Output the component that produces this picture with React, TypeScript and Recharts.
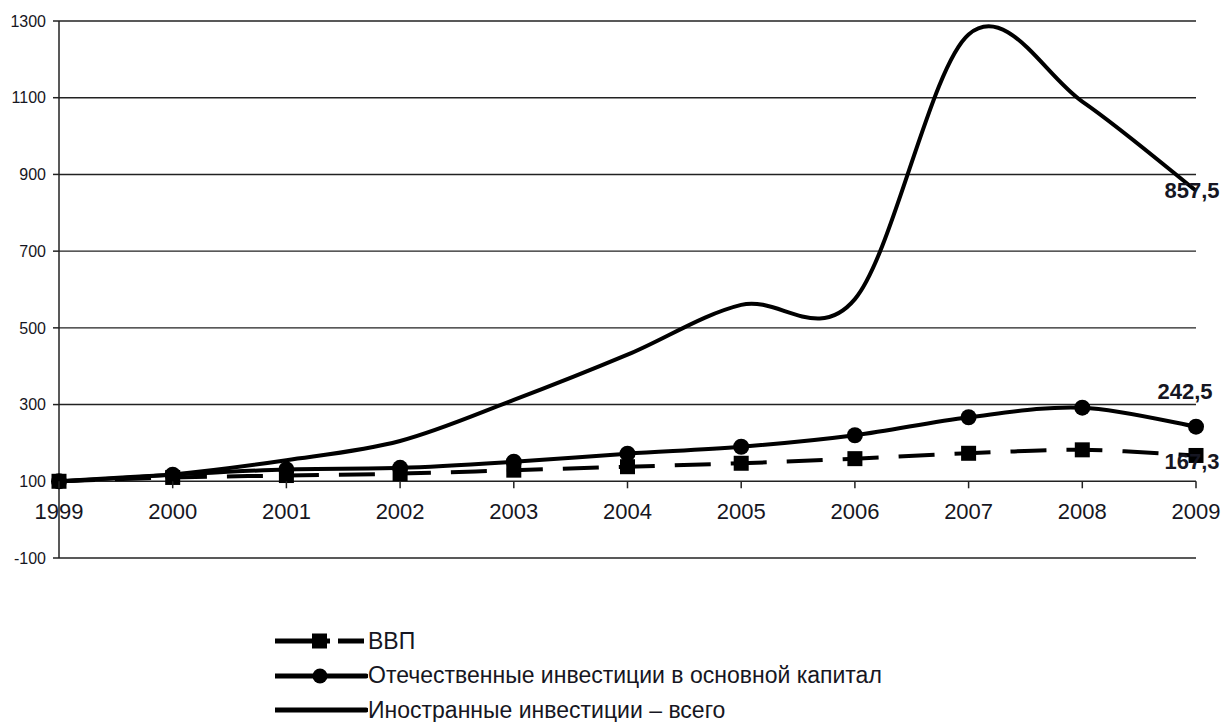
import React from "react";
import {
  LineChart,
  Line,
  XAxis,
  YAxis,
  CartesianGrid,
  Legend,
  LabelList,
} from "recharts";

const years = ["1999", "2000", "2001", "2002", "2003", "2004", "2005", "2006", "2007", "2008", "2009"];
const gdp = [100, 110, 115, 120, 129, 138, 147, 159, 173, 182, 167.3];
const domestic = [100, 117, 131, 135, 151, 172, 190, 220, 267, 292, 242.5];
const foreign = [100, 118, 155, 205, 312, 430, 560, 575, 1265, 1090, 857.5];
const yTicks = [-100, 100, 300, 500, 700, 900, 1100, 1300];

const seriesNames = {
  gdp: "ВВП",
  domestic: "Отечественные инвестиции в основной капитал",
  foreign: "Иностранные инвестиции – всего",
};

const data = years.map((year, i) => ({
  year,
  gdp: gdp[i],
  domestic: domestic[i],
  foreign: foreign[i],
}));

const W = 1223;
const H = 722;
const X_AXIS_H = 30;
const MARGIN = { top: 21, right: 27, left: 0, bottom: 134 };
const Y_MIN = -100;
const Y_MAX = 1300;
const X_AXIS_AT = 100;
const FONT = '"Liberation Sans", Arial, sans-serif';
const INK = "#161622";

// Excel-like smoothed line (Catmull-Rom through every point)
function excelSmooth(context: any) {
  let pts: number[][] = [];
  return {
    areaStart() {},
    areaEnd() {},
    lineStart() {
      pts = [];
    },
    lineEnd() {
      const n = pts.length;
      if (!n) return;
      context.moveTo(pts[0][0], pts[0][1]);
      for (let i = 0; i < n - 1; i++) {
        const p0 = pts[Math.max(i - 1, 0)];
        const p1 = pts[i];
        const p2 = pts[i + 1];
        const p3 = pts[Math.min(i + 2, n - 1)];
        context.bezierCurveTo(
          p1[0] + (p2[0] - p0[0]) / 6,
          p1[1] + (p2[1] - p0[1]) / 6,
          p2[0] - (p3[0] - p1[0]) / 6,
          p2[1] - (p3[1] - p1[1]) / 6,
          p2[0],
          p2[1]
        );
      }
    },
    point(x: number, y: number) {
      pts.push([+x, +y]);
    },
  };
}

// x labels sit under the line at 100, not at the bottom of the plot
const plotH = H - MARGIN.top - MARGIN.bottom - X_AXIS_H;
const axisShift = ((X_AXIS_AT - Y_MIN) / (Y_MAX - Y_MIN)) * plotH;

const XTick = (props: any) => {
  const { x, y, payload } = props;
  return (
    <g transform={`translate(${x},${y - axisShift})`}>
      <line x1={0} x2={0} y1={0} y2={7} stroke="#222" strokeWidth={1.5} />
      <text x={0} y={38} textAnchor="middle" fontSize={22} fontFamily={FONT} fill={INK}>
        {payload.value}
      </text>
    </g>
  );
};

const SquareDot = (props: any) => {
  const { cx, cy, index } = props;
  if (cx == null || cy == null) return null;
  return <rect key={`sq-${index}`} x={cx - 7.5} y={cy - 7.5} width={15} height={15} fill="#000" />;
};

const lastLabel = (dx: number, dy: number) => (props: any) => {
  const { x, y, index, value } = props;
  if (index !== years.length - 1) return null;
  return (
    <text
      x={x + dx}
      y={y + dy}
      textAnchor="middle"
      fontSize={22}
      fontWeight="bold"
      fontFamily={FONT}
      fill={INK}
    >
      {String(value).replace(".", ",")}
    </text>
  );
};

const LegendContent = () => {
  const rows = [
    {
      name: seriesNames.gdp,
      icon: (
        <>
          <line x1={0} x2={91} y1={17} y2={17} stroke="#000" strokeWidth={5} strokeDasharray="55 8 26" />
          <rect x={37} y={9.5} width={15} height={15} fill="#000" />
        </>
      ),
    },
    {
      name: seriesNames.domestic,
      icon: (
        <>
          <line x1={0} x2={91} y1={17} y2={17} stroke="#000" strokeWidth={5} strokeLinecap="round" />
          <circle cx={45} cy={17} r={7.5} fill="#000" />
        </>
      ),
    },
    {
      name: seriesNames.foreign,
      icon: <line x1={0} x2={91} y1={17} y2={17} stroke="#000" strokeWidth={5} strokeLinecap="round" />,
    },
  ];
  return (
    <div style={{ fontFamily: FONT, fontSize: 23, color: INK }}>
      {rows.map((r) => (
        <div key={r.name} style={{ display: "flex", alignItems: "center", height: 34.5 }}>
          <svg width={93} height={34} style={{ display: "block" }}>
            {r.icon}
          </svg>
          <span style={{ whiteSpace: "nowrap" }}>{r.name}</span>
        </div>
      ))}
    </div>
  );
};

export default function App() {
  return (
    <div style={{ position: "absolute", left: 0, top: 0, width: W, height: H, background: "#fff" }}>
      <LineChart width={W} height={H} data={data} margin={MARGIN}>
        <CartesianGrid vertical={false} stroke="#222" strokeWidth={1.4} />
        <XAxis
          dataKey="year"
          height={X_AXIS_H}
          axisLine={false}
          tickLine={false}
          tickSize={0}
          tickMargin={0}
          interval={0}
          tick={<XTick />}
        />
        <YAxis
          width={59}
          domain={[Y_MIN, Y_MAX]}
          ticks={yTicks}
          interval={0}
          axisLine={{ stroke: "#222", strokeWidth: 1.5 }}
          tickLine={{ stroke: "#222", strokeWidth: 1.5 }}
          tickSize={6}
          tickMargin={7}
          tick={{ fontSize: 16, fontFamily: FONT, fill: INK }}
        />
        <Legend
          layout="vertical"
          align="center"
          verticalAlign="middle"
          wrapperStyle={{ left: 275, top: 624, width: 700 }}
          content={<LegendContent />}
        />
        <Line
          dataKey="gdp"
          name={seriesNames.gdp}
          type={excelSmooth as any}
          stroke="#000"
          strokeWidth={4}
          strokeDasharray="36 20"
          dot={<SquareDot />}
          activeDot={false}
          isAnimationActive={false}
        >
          <LabelList dataKey="gdp" content={lastLabel(-4, 14)} />
        </Line>
        <Line
          dataKey="domestic"
          name={seriesNames.domestic}
          type={excelSmooth as any}
          stroke="#000"
          strokeWidth={4}
          dot={{ r: 8, fill: "#000", stroke: "#000", strokeWidth: 0 }}
          activeDot={false}
          isAnimationActive={false}
        >
          <LabelList dataKey="domestic" content={lastLabel(-11, -28)} />
        </Line>
        <Line
          dataKey="foreign"
          name={seriesNames.foreign}
          type={excelSmooth as any}
          stroke="#000"
          strokeWidth={4}
          dot={false}
          activeDot={false}
          isAnimationActive={false}
        >
          <LabelList dataKey="foreign" content={lastLabel(-4, 7)} />
        </Line>
      </LineChart>
    </div>
  );
}
